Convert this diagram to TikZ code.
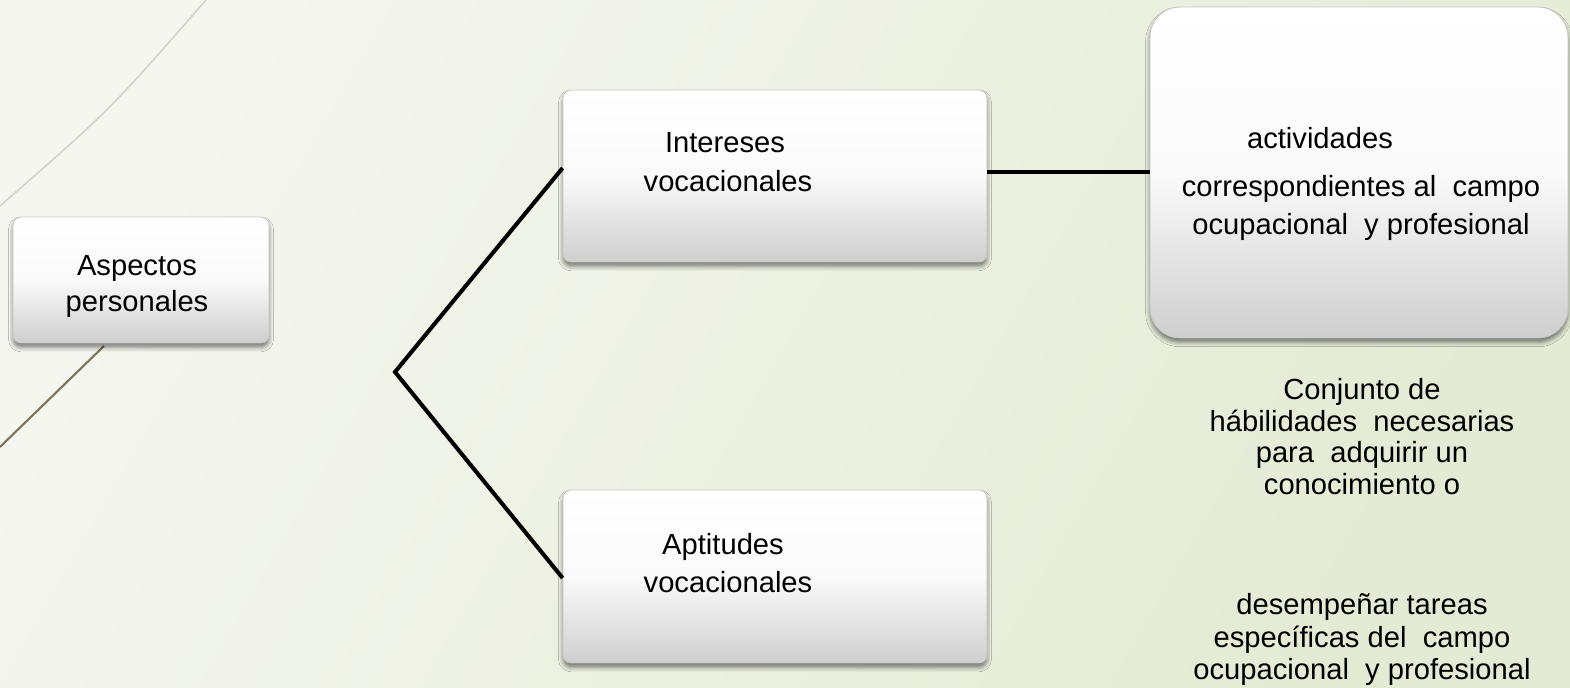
\documentclass[tikz,border=0pt]{standalone}
\usepackage{fontspec}
\setmainfont{Liberation Sans}
\usetikzlibrary{shadows.blur}
\definecolor{bgA}{RGB}{245,246,239}
\definecolor{bgB}{RGB}{228,235,212}
\definecolor{wispL}{RGB}{212,212,196}
\definecolor{wispD}{RGB}{125,116,92}
\tikzset{
  px/.style={x=0.02cm,y=-0.02cm},
  boxshape/.style={rectangle, rounded corners=0.16cm, draw=black!22, line width=0.5pt,
    top color=white, bottom color=black!19, middle color=black!2,
    blur shadow={shadow xshift=0pt, shadow yshift=-2.5pt, shadow blur radius=2.5pt, shadow opacity=50},
    inner sep=0pt},
  lbl/.style={anchor=base, inner sep=0pt, font=\fontsize{16.6}{19}\selectfont, text=black},
  link/.style={line width=2.3pt, black}
}
\begin{document}
\begin{tikzpicture}[px]
\useasboundingbox (0,0) rectangle (1570,688);
\shade[left color=bgA, right color=bgB, shading angle=60] (0,0) rectangle (1570,688);
% decorative wisps
\draw[wispL, line width=0.9pt] (206,0) .. controls (110,110) .. (0,206);
\draw[wispD, line width=1.2pt] (104,346) -- (0,447);
% boxes
\node[boxshape, minimum width=5.12cm, minimum height=2.52cm] (asp) at (141,280) {};
\node[boxshape, minimum width=8.48cm, minimum height=3.44cm] (int) at (775,176) {};
\node[boxshape, minimum width=8.48cm, minimum height=3.46cm] (apt) at (775,576.5) {};
\node[boxshape, rounded corners=0.6cm, minimum width=8.36cm, minimum height=6.62cm] (act) at (1359,172.5) {};
% connectors
\coordinate (v) at (395,372);
\draw[link] (int.west |- 0,168) -- (v) -- (apt.west |- 0,578);
\draw[link] (int.east |- 0,172) -- (act.west |- 0,172);
% texts
\node[lbl] (t1) at (137,276) {Aspectos};
\node[lbl] (t2) at (137,312) {personales};
\node[lbl] (t3) at (725,153) {Intereses};
\node[lbl] (t4) at (728,192) {vocacionales};
\node[lbl] (t5) at (723,555) {Aptitudes};
\node[lbl] (t6) at (728,593) {vocacionales};
\node[lbl] (t7) at (1320,149) {actividades};
\node[lbl] (t8) at (1361,197) {correspondientes al~~campo};
\node[lbl] (t9) at (1361,235) {ocupacional~~y profesional};
\node[lbl] (b1) at (1362,400) {Conjunto de};
\node[lbl] (b2) at (1362,432) {hábilidades~~necesarias};
\node[lbl] (b3) at (1362,463) {para~~adquirir un};
\node[lbl] (b4) at (1362,495) {conocimiento o};
\node[lbl] (b5) at (1362,615) {desempeñar tareas};
\node[lbl] (b6) at (1362,648) {específicas del~~campo};
\node[lbl] (b7) at (1362,680) {ocupacional~~y profesional};
\end{tikzpicture}
\end{document}
